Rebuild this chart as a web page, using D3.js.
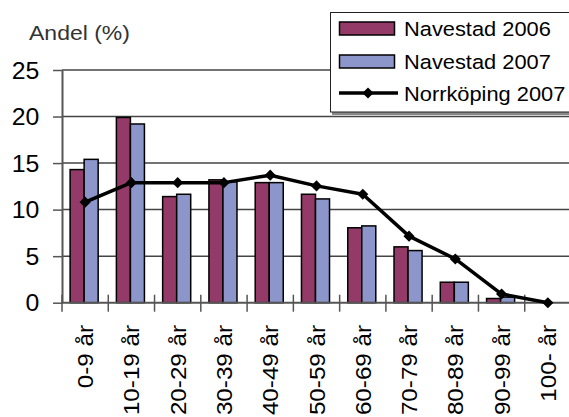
<!DOCTYPE html>
<html>
<head>
<meta charset="utf-8">
<script src="https://cdn.jsdelivr.net/npm/d3@7"></script>
<style>
  body { margin: 0; background: #fff; }
  svg { display: block; font-family: "Liberation Sans", Arial, sans-serif; }
</style>
</head>
<body>
<svg id="chart"></svg>
<script>
const categories = ["0-9 år", "10-19 år", "20-29 år", "30-39 år", "40-49 år", "50-59 år",
                    "60-69 år", "70-79 år", "80-89 år", "90-99 år", "100- år"];
const navestad2006 = [14.3, 19.9, 11.4, 13.2, 12.9, 11.65, 8.05, 6.0, 2.2, 0.45, 0];
const navestad2007 = [15.4, 19.2, 11.65, 13.0, 12.9, 11.15, 8.25, 5.6, 2.2, 0.6, 0];
const norrkoping2007 = [10.8, 12.9, 12.9, 12.9, 13.7, 12.55, 11.65, 7.15, 4.7, 0.93, 0];
const yTicks = [0, 5, 10, 15, 20, 25];
const seriesNames = ["Navestad 2006", "Navestad 2007", "Norrköping 2007"];

const width = 569;
const height = 417;
const font = "'Liberation Sans', Arial, sans-serif";
const colors = { n06: "#943a68", n07: "#8c96ca" };

const svg = d3.select("#chart")
    .attr("width", width)
    .attr("height", height);

// skalor
const x = d3.scaleBand()
    .domain(categories)
    .range([62, 571])
    .padding(0);

const sub = d3.scaleBand()
    .domain(["n06", "n07"])
    .range([-1, x.bandwidth() - 1])
    .paddingInner(0)
    .paddingOuter(0.65);

const y = d3.scaleLinear()
    .domain([0, 25])
    .range([302.7, 70]);

// stödlinjer
svg.append("g")
    .selectAll("line")
    .data(yTicks.filter(d => d > 0))
    .enter()
    .append("line")
    .attr("x1", 62)
    .attr("x2", width)
    .attr("y1", d => y(d))
    .attr("y2", d => y(d))
    .attr("stroke", "#444")
    .attr("stroke-width", 1.5);

// y-axel
const yAxis = svg.append("g")
    .attr("transform", "translate(62,0)")
    .call(d3.axisLeft(y).tickValues(yTicks).tickSize(9).tickSizeOuter(0));
yAxis.select(".domain").attr("stroke", "#555").attr("stroke-width", 2);
yAxis.selectAll(".tick line").attr("stroke", "#555").attr("stroke-width", 1.5);
yAxis.selectAll(".tick text")
    .attr("x", -21)
    .attr("dy", null)
    .attr("y", 8)
    .attr("fill", "#000")
    .attr("font-size", 23)
    .attr("font-family", font)
    .attr("transform", "scale(1.08,1)");

// staplar
const groups = svg.append("g")
    .selectAll("g")
    .data(categories)
    .enter()
    .append("g")
    .attr("transform", d => `translate(${x(d)},0)`);

groups.append("rect")
    .attr("x", sub("n06"))
    .attr("y", (_, i) => y(navestad2006[i]))
    .attr("width", sub.bandwidth())
    .attr("height", (_, i) => y(0) - y(navestad2006[i]))
    .attr("fill", colors.n06)
    .attr("stroke", "#000")
    .attr("stroke-width", 1.5);

groups.append("rect")
    .attr("x", sub("n07"))
    .attr("y", (_, i) => y(navestad2007[i]))
    .attr("width", sub.bandwidth())
    .attr("height", (_, i) => y(0) - y(navestad2007[i]))
    .attr("fill", colors.n07)
    .attr("stroke", "#000")
    .attr("stroke-width", 1.5);

// x-axel
svg.append("line")
    .attr("x1", 62).attr("x2", width)
    .attr("y1", y(0)).attr("y2", y(0))
    .attr("stroke", "#555")
    .attr("stroke-width", 2);

svg.append("g")
    .selectAll("line")
    .data(categories)
    .enter()
    .append("line")
    .attr("x1", d => x(d))
    .attr("x2", d => x(d))
    .attr("y1", y(0) - 8)
    .attr("y2", y(0) + 9)
    .attr("stroke", "#555")
    .attr("stroke-width", 1.5);

// kategorietiketter
svg.append("g")
    .selectAll("text")
    .data(categories)
    .enter()
    .append("text")
    .attr("transform", d => `translate(${x(d) + x.bandwidth() / 2 + 8},325) rotate(-90) scale(1.1,1)`)
    .attr("text-anchor", "end")
    .attr("font-size", 22)
    .attr("fill", "#000")
    .text(d => d);

// linje Norrköping
const line = d3.line()
    .x((_, i) => x(categories[i]) + x.bandwidth() / 2)
    .y(d => y(d));

svg.append("path")
    .datum(norrkoping2007)
    .attr("d", line)
    .attr("fill", "none")
    .attr("stroke", "#000")
    .attr("stroke-width", 3.5)
    .attr("stroke-linejoin", "round");

svg.append("g")
    .selectAll("path")
    .data(norrkoping2007)
    .enter()
    .append("path")
    .attr("d", d3.symbol(d3.symbolSquare, 62))
    .attr("transform", (d, i) => `translate(${x(categories[i]) + x.bandwidth() / 2},${y(d)}) rotate(45)`)
    .attr("fill", "#000");

// axeltitel
svg.append("text")
    .attr("transform", "translate(29,40) scale(1.15,1)")
    .attr("font-size", 20)
    .attr("fill", "#333")
    .text("Andel (%)");

// förklaring
const legend = svg.append("g");
legend.append("rect")
    .attr("x", 332).attr("y", 14)
    .attr("width", 250).attr("height", 101)
    .attr("fill", "#888");
legend.append("rect")
    .attr("x", 330.5).attr("y", 12.5)
    .attr("width", 250).attr("height", 99.5)
    .attr("fill", "#fff")
    .attr("stroke", "#222")
    .attr("stroke-width", 1);

const rowY = [28.5, 61.5, 93];
legend.append("rect")
    .attr("x", 339.5).attr("y", rowY[0] - 6.5)
    .attr("width", 55).attr("height", 13)
    .attr("fill", colors.n06).attr("stroke", "#000").attr("stroke-width", 1.5);
legend.append("rect")
    .attr("x", 339.5).attr("y", rowY[1] - 6.5)
    .attr("width", 55).attr("height", 13)
    .attr("fill", colors.n07).attr("stroke", "#000").attr("stroke-width", 1.5);
legend.append("line")
    .attr("x1", 339).attr("x2", 398)
    .attr("y1", rowY[2]).attr("y2", rowY[2])
    .attr("stroke", "#000").attr("stroke-width", 3.5);
legend.append("path")
    .attr("d", d3.symbol(d3.symbolSquare, 62))
    .attr("transform", `translate(368,${rowY[2]}) rotate(45)`)
    .attr("fill", "#000");

legend.selectAll(".ltext")
    .data(seriesNames)
    .enter()
    .append("text")
    .attr("class", "ltext")
    .attr("transform", (_, i) => `translate(404,${rowY[i] + 7.5}) scale(1.12,1)`)
    .attr("font-size", 19.5)
    .attr("fill", "#000")
    .text(d => d);
</script>
</body>
</html>
